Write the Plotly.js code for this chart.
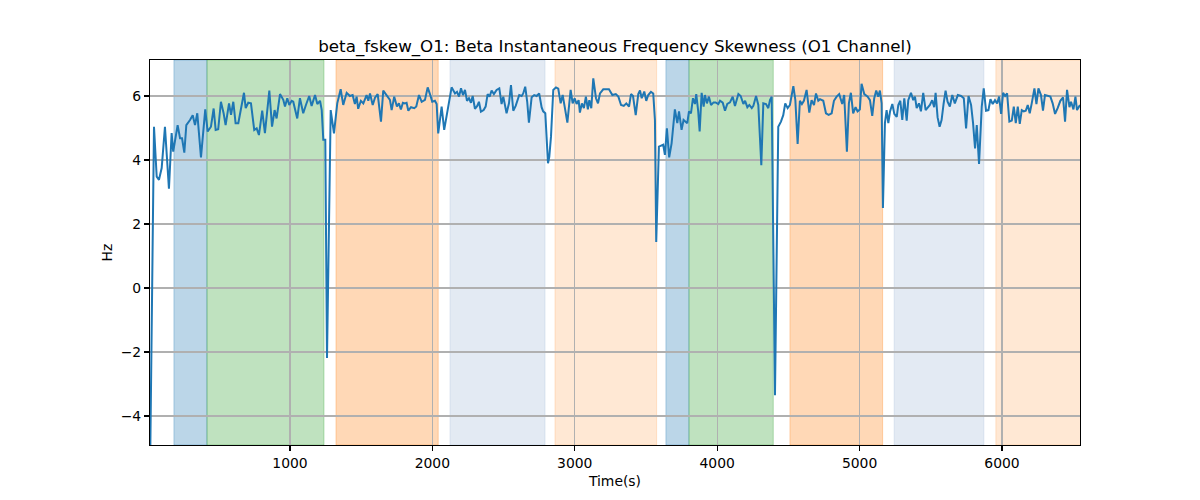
<!DOCTYPE html>
<html>
<head>
<meta charset="utf-8">
<script src="https://cdn.plot.ly/plotly-3.0.1.min.js"></script>
<style>html,body{margin:0;padding:0;background:#fff;}#chart{width:1200px;height:500px;}</style>
</head>
<body>
<div id="chart"></div>
<script>
// ---- data ----
var timeSec = [18,45,64,80,99,122,150,169,180,211,228,242,258,272,298,317,333,349,375,405,422,445,464,478,496,515,534,548,572,586,602,618,637,656,677,689,707,726,749,766,782,805,824,855,874,892,906,930,953,965,981,995,1012,1023,1051,1070,1093,1112,1135,1152,1176,1192,1211,1223,1234,1248,1260,1286,1309,1332,1356,1374,1398,1421,1440,1456,1468,1479,1498,1515,1538,1550,1562,1581,1597,1616,1639,1655,1679,1702,1714,1732,1751,1765,1779,1793,1807,1819,1831,1850,1873,1887,1906,1925,1948,1967,1983,1999,2018,2030,2041,2065,2083,2107,2124,2135,2159,2173,2187,2201,2215,2229,2243,2257,2271,2283,2299,2315,2327,2341,2360,2374,2388,2402,2416,2432,2451,2470,2486,2498,2521,2538,2552,2568,2585,2599,2610,2627,2638,2652,2666,2678,2697,2715,2732,2750,2767,2778,2793,2812,2821,2833,2849,2868,2884,2901,2915,2929,2948,2971,2985,2999,3013,3027,3036,3050,3064,3078,3092,3102,3116,3130,3149,3163,3177,3200,3212,3240,3264,3288,3306,3325,3344,3362,3381,3395,3409,3428,3446,3458,3470,3488,3502,3516,3535,3551,3563,3572,3591,3610,3621,3633,3647,3663,3680,3703,3720,3732,3750,3764,3779,3790,3802,3816,3830,3844,3853,3867,3877,3891,3905,3914,3928,3942,3957,3975,3989,4008,4020,4039,4055,4071,4090,4109,4125,4149,4165,4184,4196,4212,4226,4243,4254,4273,4289,4310,4324,4343,4359,4371,4383,4406,4429,4448,4464,4478,4495,4511,4535,4549,4565,4581,4595,4609,4628,4647,4663,4680,4694,4710,4722,4745,4764,4783,4804,4820,4839,4857,4878,4892,4911,4925,4939,4955,4972,4986,5002,5014,5033,5057,5073,5089,5103,5117,5131,5143,5155,5164,5178,5190,5202,5214,5230,5244,5261,5272,5286,5300,5314,5331,5342,5361,5377,5389,5401,5417,5431,5447,5464,5478,5494,5510,5524,5534,5548,5562,5576,5590,5604,5618,5634,5651,5669,5690,5713,5732,5748,5765,5783,5797,5811,5823,5839,5858,5872,5888,5905,5919,5935,5951,5966,5980,5994,6008,6022,6036,6052,6069,6083,6097,6111,6125,6139,6153,6167,6181,6195,6209,6228,6242,6256,6274,6288,6302,6321,6340,6356,6373,6391,6410,6429,6443,6457,6474,6485,6502,6516,6527,6548];

var skewHz = [-5.5,5.04,3.48,3.38,3.75,5.04,3.1,4.84,4.26,5.09,4.68,4.68,4.23,5.09,5.25,5.4,5.09,5.46,4.08,5.58,4.89,5.04,5.61,4.94,4.96,5.82,5.46,5.09,5.77,5.41,5.82,5.15,5.15,5.56,6.1,5.62,5.79,5.77,4.94,4.99,4.78,5.54,4.84,6.17,5.04,5.56,5.3,6.06,5.88,5.67,5.93,5.72,5.85,5.82,5.3,5.93,5.46,5.72,6.0,5.69,6.03,5.75,5.85,5.56,4.63,4.63,-2.19,5.56,4.83,5.77,6.21,5.72,6.1,6.0,6.03,5.75,5.98,5.6,5.85,5.77,6.03,5.85,6.08,5.72,5.95,6.06,5.2,6.17,6.03,5.88,5.56,5.98,5.67,5.77,5.58,5.79,5.77,5.79,5.54,5.65,5.62,5.67,6.03,5.82,5.88,6.27,6.06,5.82,5.85,5.75,4.83,5.67,4.94,5.51,5.98,6.27,6.08,6.13,5.98,6.24,6.03,6.19,5.85,5.93,5.79,6.0,5.6,5.69,5.82,5.51,5.56,5.67,6.06,5.98,6.17,6.06,6.19,6.24,5.75,5.98,5.46,5.77,6.34,5.54,5.69,5.85,6.03,6.0,6.08,6.29,5.82,5.17,5.96,6.03,6.0,6.08,5.65,5.52,5.46,3.9,4.1,4.73,6.19,6.27,6.23,5.77,6.03,5.67,5.17,6.19,5.77,5.93,5.75,5.87,5.48,5.77,5.62,5.98,5.58,5.87,5.62,6.55,5.93,5.77,6.08,6.21,6.21,6.21,6.03,6.06,5.98,5.72,5.69,5.77,5.67,6.06,6.0,5.4,6.06,6.17,5.93,6.14,5.85,6.03,6.13,6.08,5.25,1.44,4.42,4.47,4.48,4.16,4.99,4.08,4.52,5.58,5.15,5.52,4.94,5.25,5.2,5.15,5.52,5.46,5.93,5.75,6.06,5.52,4.89,6.1,5.67,6.03,5.77,5.98,5.72,5.8,5.8,5.75,5.85,5.79,5.54,5.75,5.8,5.98,5.69,6.06,6.0,5.75,5.85,5.65,5.72,5.62,5.69,6.0,5.72,3.84,5.77,5.75,5.62,5.87,5.98,-3.35,5.04,5.2,5.4,5.77,5.62,5.72,6.31,5.87,4.5,5.85,5.75,5.85,6.19,5.48,5.87,5.72,6.08,5.85,5.9,5.85,5.46,5.41,5.46,5.85,5.98,6.06,5.75,6.03,4.26,5.77,6.1,5.46,5.65,5.52,5.58,6.38,6.06,5.98,5.87,5.38,5.93,6.17,5.98,6.17,5.77,2.5,5.15,5.56,5.15,5.52,5.75,5.44,5.35,5.72,5.85,5.25,5.93,5.23,5.87,6.1,5.87,5.98,5.62,5.77,5.52,6.1,5.56,5.65,5.72,5.87,5.65,6.1,5.33,5.04,5.25,5.75,6.17,5.82,5.67,6.03,5.77,6.03,6.0,5.93,4.99,6.0,5.72,5.15,4.36,5.09,3.88,5.67,6.24,5.54,5.56,5.9,5.75,5.87,5.77,5.98,5.44,6.1,6.0,6.08,5.2,5.23,5.67,5.15,5.67,5.13,5.56,5.52,5.54,5.72,5.46,5.77,6.24,5.75,6.24,6.03,5.54,6.03,6.0,5.98,5.77,5.44,5.62,5.85,5.96,5.2,6.19,5.65,5.82,5.58,5.98,5.56,5.72];

// shaded intervals (seconds) and their state category
var bandStart = [185, 417, 1323, 2124, 2861, 3640, 3802, 4511, 5243, 5957];
var bandEnd   = [417, 1239, 2041, 2791, 3575, 3802, 4394, 5162, 5873, 6600];
var bandKind  = ['A', 'B', 'C', 'D', 'E', 'A', 'B', 'C', 'D', 'E'];

var yTicks = [-4, -2, 0, 2, 4, 6];
var xTicks = [1000, 2000, 3000, 4000, 5000, 6000];

// ---- styles ----
var kindFill = {
  A: 'rgba(31,119,180,0.3)',
  B: 'rgba(44,160,44,0.3)',
  C: 'rgba(255,127,14,0.3)',
  D: 'rgba(176,196,222,0.35)',
  E: 'rgba(255,127,14,0.18)'
};

var shapes = bandStart.map(function (s, i) {
  return {
    type: 'rect', xref: 'x', yref: 'paper',
    x0: s, x1: bandEnd[i], y0: 0, y1: 1,
    fillcolor: kindFill[bandKind[i]],
    line: {color: kindFill[bandKind[i]], width: 1},
    layer: 'below'
  };
});

var trace = {
  x: timeSec, y: skewHz, type: 'scatter', mode: 'lines',
  line: {color: '#1f77b4', width: 2},
  hoverinfo: 'x+y'
};

var font = 'DejaVu Sans, sans-serif';
var layout = {
  width: 1200, height: 500,
  margin: {l: 150, r: 120, t: 60, b: 55},
  paper_bgcolor: '#fff', plot_bgcolor: '#fff',
  showlegend: false,
  font: {family: font, size: 13.9, color: '#000'},
  title: {
    text: 'beta_fskew_O1: Beta Instantaneous Frequency Skewness (O1 Channel)',
    font: {family: font, size: 16.7, color: '#000'},
    x: 0.5, xref: 'paper', xanchor: 'center',
    y: 1 - 46 / 500, yref: 'container', yanchor: 'middle'
  },
  xaxis: {
    range: [17, 6548],
    tickvals: xTicks, ticktext: xTicks.map(String),
    ticks: 'outside', ticklen: 5, tickwidth: 1.1, tickcolor: '#000',
    showline: true, linecolor: '#000', linewidth: 1.1, mirror: true,
    showgrid: true, gridcolor: '#b0b0b0', gridwidth: 1.1,
    zeroline: false,
    tickfont: {family: font, size: 13.9, color: '#000'},
    title: {text: 'Time(s)', font: {family: font, size: 13.9, color: '#000'}, standoff: 6}
  },
  yaxis: {
    range: [-4.906, 7.125],
    tickvals: yTicks, ticktext: yTicks.map(function (v) { return v < 0 ? '\u2212' + Math.abs(v) : String(v); }),
    ticks: 'outside', ticklen: 5, tickwidth: 1.1, tickcolor: '#000',
    showline: true, linecolor: '#000', linewidth: 1.1, mirror: true,
    showgrid: true, gridcolor: '#b0b0b0', gridwidth: 1.1,
    zeroline: false,
    tickfont: {family: font, size: 13.9, color: '#000'},
    title: {text: 'Hz', font: {family: font, size: 13.9, color: '#000'}, standoff: 4}
  },
  shapes: shapes
};

Plotly.newPlot('chart', [trace], layout, {displayModeBar: false, staticPlot: true});
</script>
</body>
</html>
